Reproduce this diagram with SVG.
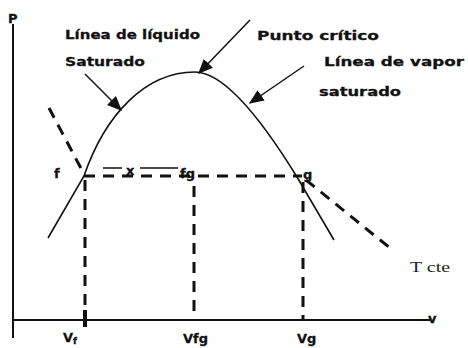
<svg xmlns="http://www.w3.org/2000/svg" width="468" height="348" viewBox="0 0 468 348">
<defs>
<style>
.lbl{font-family:"DejaVu Sans","Liberation Sans",sans-serif;font-weight:bold;font-size:13px;fill:#111;stroke:#111;stroke-width:0.3}
.ser{font-family:"Liberation Serif",serif;font-size:15px;fill:#222}
.ax{stroke:#111;stroke-width:2;fill:none}
.crv{stroke:#111;stroke-width:1.6;fill:none}
.dash{stroke:#111;stroke-width:3;fill:none;stroke-dasharray:11 8}
.thin{stroke:#111;stroke-width:1.5;fill:none}
</style>
<marker id="ah" viewBox="0 0 10 10" refX="9" refY="5" markerWidth="10" markerHeight="10" orient="auto" markerUnits="strokeWidth">
<path d="M0,0.8 L10,5 L0,9.2 z" fill="#111"/>
</marker>
</defs>
<rect width="468" height="348" fill="#fff"/>
<g id="axes">
<line class="ax" x1="13" y1="24" x2="13" y2="338"/>
<line class="ax" x1="12" y1="320" x2="430" y2="320"/>
<text class="lbl" x="8" y="23" font-size="16">P</text>
<text class="lbl" x="428" y="323" font-size="14">v</text>
</g>
<g id="dome">
<path class="crv" d="M48,238 L84,176 C105,115 145,72 195,72 C225,72 265,125 297,177 L334,240"/>
</g>
<g id="connectors">
<path class="dash" d="M49,108 L84,174"/>
<path class="dash" d="M306,180 L390,248"/>
<line class="dash" x1="84" y1="176" x2="302" y2="176"/>
<line class="thin" x1="103" y1="168" x2="122" y2="168"/>
<line class="thin" x1="140" y1="168" x2="178" y2="168"/>
<line class="dash" x1="85" y1="180" x2="85" y2="322"/>
<line x1="85" y1="310" x2="85" y2="327" stroke="#111" stroke-width="4"/>
<line class="dash" x1="194" y1="186" x2="194" y2="320"/>
<line class="dash" x1="303" y1="182" x2="303" y2="320"/>
<line class="thin" x1="85" y1="74" x2="121" y2="110" marker-end="url(#ah)"/>
<line class="thin" x1="250" y1="20" x2="199" y2="73" marker-end="url(#ah)"/>
<line class="thin" x1="304" y1="66" x2="250" y2="103" marker-end="url(#ah)"/>
</g>
<g id="labels">
<text class="lbl" x="65" y="39" textLength="135" lengthAdjust="spacingAndGlyphs">Línea de líquido</text>
<text class="lbl" x="65" y="66" textLength="80" lengthAdjust="spacingAndGlyphs">Saturado</text>
<text class="lbl" x="257" y="40" textLength="122" lengthAdjust="spacingAndGlyphs">Punto crítico</text>
<text class="lbl" x="324" y="66" textLength="140" lengthAdjust="spacingAndGlyphs">Línea de vapor</text>
<text class="lbl" x="319" y="96" textLength="82" lengthAdjust="spacingAndGlyphs">saturado</text>
<text class="lbl" x="54" y="178">f</text>
<text class="lbl" x="126" y="175">x</text>
<text class="lbl" x="180" y="178">fg</text>
<text class="lbl" x="303" y="179">g</text>
<text class="ser" x="410" y="272" textLength="40" lengthAdjust="spacingAndGlyphs">T cte</text>
<text class="lbl" x="63" y="342" font-size="14">V<tspan font-size="9" dy="2">f</tspan></text>
<text class="lbl" x="183" y="343" font-size="14">Vfg</text>
<text class="lbl" x="297" y="343" font-size="14">Vg</text>
</g>
</svg>
